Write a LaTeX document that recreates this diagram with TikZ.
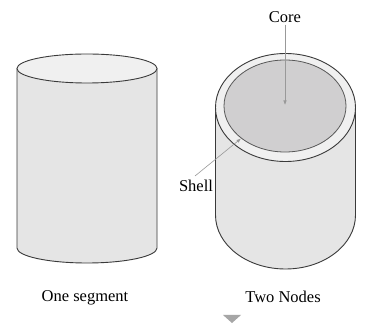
\documentclass[tikz,border=0pt]{standalone}
\usepackage{fontspec}
\setmainfont{Liberation Serif}
\usetikzlibrary{arrows.meta}
\definecolor{bodygray}{HTML}{E5E5E5}
\definecolor{capgray}{HTML}{F0F0F0}
\definecolor{coregray}{HTML}{D0CFD0}
\definecolor{edge}{HTML}{3A3A3A}
\definecolor{pointergray}{HTML}{999999}
\tikzset{
  outline/.style={draw=edge, line width=0.9pt},
  pointer/.style={draw=pointergray, line width=0.6pt, -{Latex[length=4.5pt,width=3.5pt]}},
  label/.style={font=\fontsize{16.5}{19}\selectfont, text=black, inner sep=2pt}
}
\begin{document}
\begin{tikzpicture}[x=1pt, y=-1pt]
\useasboundingbox (0,0) rectangle (373,331);
\fill[white] (0,0) rectangle (373,331);

% solid cylinder: one segment
\fill[bodygray] (17,68.5) -- (17,248)
  arc[start angle=180, end angle=360, x radius=70pt, y radius=15pt]
  -- (157,68.5) -- cycle;
\draw[outline] (17,68.5) -- (17,248)
  arc[start angle=180, end angle=360, x radius=70pt, y radius=15pt]
  -- (157,68.5);
\draw[outline, fill=capgray] (87,68.5) ellipse [x radius=70pt, y radius=14.5pt];

% cylinder with shell and core: two nodes
\fill[bodygray] (215.5,107.5) -- (215.5,215)
  arc[start angle=180, end angle=360, x radius=70pt, y radius=54pt]
  -- (355.5,107.5) -- cycle;
\draw[outline] (215.5,107.5) -- (215.5,215)
  arc[start angle=180, end angle=360, x radius=70pt, y radius=54pt]
  -- (355.5,107.5);
\draw[outline, fill=capgray] (285.5,107.5) ellipse [x radius=70pt, y radius=54pt];
\draw[outline, line width=0.8pt, draw=edge!85, fill=coregray] (285,106) ellipse [x radius=61pt, y radius=46pt];

% labels and pointers
\node[label] (core) at (285,17) {Core};
\coordinate (coretip) at (285,105);
\draw[pointer] (core) -- (coretip);

\node[label] (shell) at (196,186) {Shell};
\coordinate (shelltip) at (241,138.5);
\draw[pointer] ([xshift=-1pt,yshift=2pt]shell.north) -- (shelltip);

\node[label] (seg) at (85,298) {One segment};
\node[label] (two) at (283,297) {Two Nodes};

% small marker below the labels
\fill[gray!70] (223,315) -- (241,315) -- (232,323) -- cycle;
\end{tikzpicture}
\end{document}
